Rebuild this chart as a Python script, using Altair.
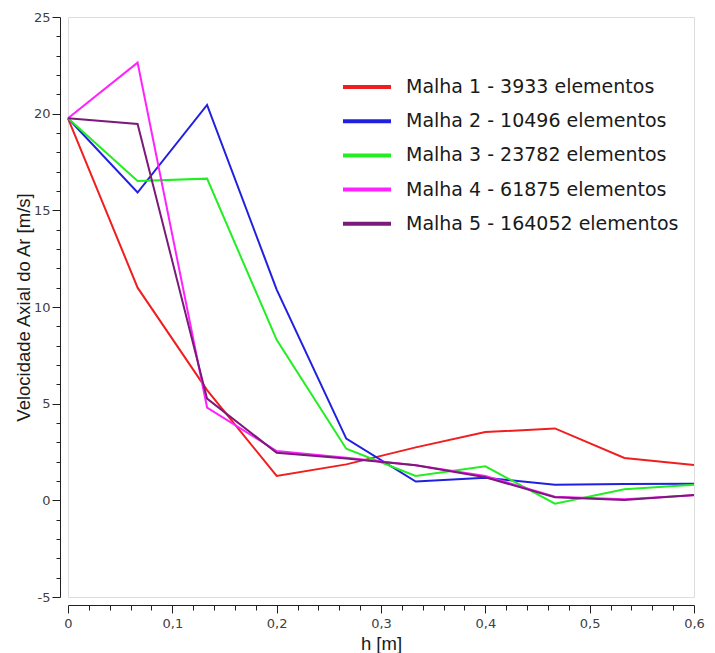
import altair as alt
import pandas as pd

h_values = [0, 0.0667, 0.1333, 0.2, 0.2667, 0.3333, 0.4, 0.4667, 0.5333, 0.6]
series_names = [
    "Malha 1 - 3933 elementos",
    "Malha 2 - 10496 elementos",
    "Malha 3 - 23782 elementos",
    "Malha 4 - 61875 elementos",
    "Malha 5 - 164052 elementos",
]
malha1 = [19.76, 11.0, 5.7, 1.26, 1.86, 2.74, 3.53, 3.72, 2.19, 1.83]
malha2 = [19.76, 15.92, 20.45, 10.9, 3.19, 0.97, 1.17, 0.81, 0.85, 0.86]
malha3 = [19.76, 16.52, 16.64, 8.3, 2.67, 1.26, 1.76, -0.17, 0.57, 0.81]
malha4 = [19.76, 22.64, 4.8, 2.55, 2.2, 1.81, 1.26, 0.19, 0.05, 0.26]
malha5 = [19.76, 19.47, 5.26, 2.46, 2.17, 1.81, 1.19, 0.16, 0.02, 0.27]
series_colors = ["#f01e1e", "#2020e0", "#22ee22", "#ff22ff", "#7a1a7a"]

y_ticks = list(range(-5, 26))
x_ticks = [round(i * 0.02, 2) for i in range(31)]

rows = []
for name, vals in zip(series_names, [malha1, malha2, malha3, malha4, malha5]):
    for h, v in zip(h_values, vals):
        rows.append({"h": h, "v": v, "serie": name})
df = pd.DataFrame(rows)

x_major = "abs(datum.value*10 - round(datum.value*10)) < 0.001"
y_major = "datum.value % 5 === 0"

chart = alt.Chart(df).mark_line(strokeWidth=2).encode(
    x=alt.X(
        "h:Q",
        scale=alt.Scale(domain=[0, 0.6], nice=False, zero=False),
        axis=alt.Axis(
            title="h [m]",
            values=x_ticks,
            grid=False,
            offset=8,
            labelExpr=f"{x_major} ? replace(format(datum.value, '.1~f'), '.', ',') : ''",
            tickSize={"condition": {"test": x_major, "value": 8}, "value": 5},
            labelOverlap=False,
            labelFlush=False,
            labelPadding=4,
            labelFont="DejaVu Sans",
            labelFontSize=13,
            labelColor="#404040",
            titleFont="Liberation Sans",
            titleFontSize=18.5,
            titleFontWeight="normal",
            titleColor="#1a1a1a",
            titlePadding=4,
            domainColor="#202020",
            tickColor="#202020",
        ),
    ),
    y=alt.Y(
        "v:Q",
        scale=alt.Scale(domain=[-5, 25], nice=False, zero=False),
        axis=alt.Axis(
            title="Velocidade Axial do Ar [m/s]",
            values=y_ticks,
            grid=False,
            offset=8,
            labelExpr=f"{y_major} ? replace(datum.label, '\u2212', '-') : ''",
            tickSize={"condition": {"test": y_major, "value": 8}, "value": 4},
            labelOverlap=False,
            labelFlush=False,
            labelPadding=2,
            labelFont="DejaVu Sans",
            labelFontSize=13,
            labelColor="#404040",
            titleFont="Liberation Sans",
            titleFontSize=18.5,
            titleFontWeight="normal",
            titleColor="#1a1a1a",
            titlePadding=0,
            domainColor="#202020",
            tickColor="#202020",
        ),
    ),
    color=alt.Color(
        "serie:N",
        scale=alt.Scale(domain=series_names, range=series_colors),
        legend=alt.Legend(
            title=None,
            orient="none",
            legendX=273,
            legendY=60,
            padding=0,
            symbolType="stroke",
            symbolSize=2304,
            symbolStrokeWidth=4,
            clipHeight=20,
            rowPadding=14.2,
            labelOffset=13,
            labelFont="DejaVu Sans",
            labelFontSize=19,
            labelColor="#1a1a1a",
            labelLimit=500,
        ),
    ),
).properties(
    width=626,
    height=580,
    autosize=alt.AutoSizeParams(type="none"),
    padding={"left": 68, "top": 17, "right": 21, "bottom": 56},
).configure_view(stroke=None).configure(background="white")

chart.save("out.html", embed_options={"renderer": "svg", "actions": False})
